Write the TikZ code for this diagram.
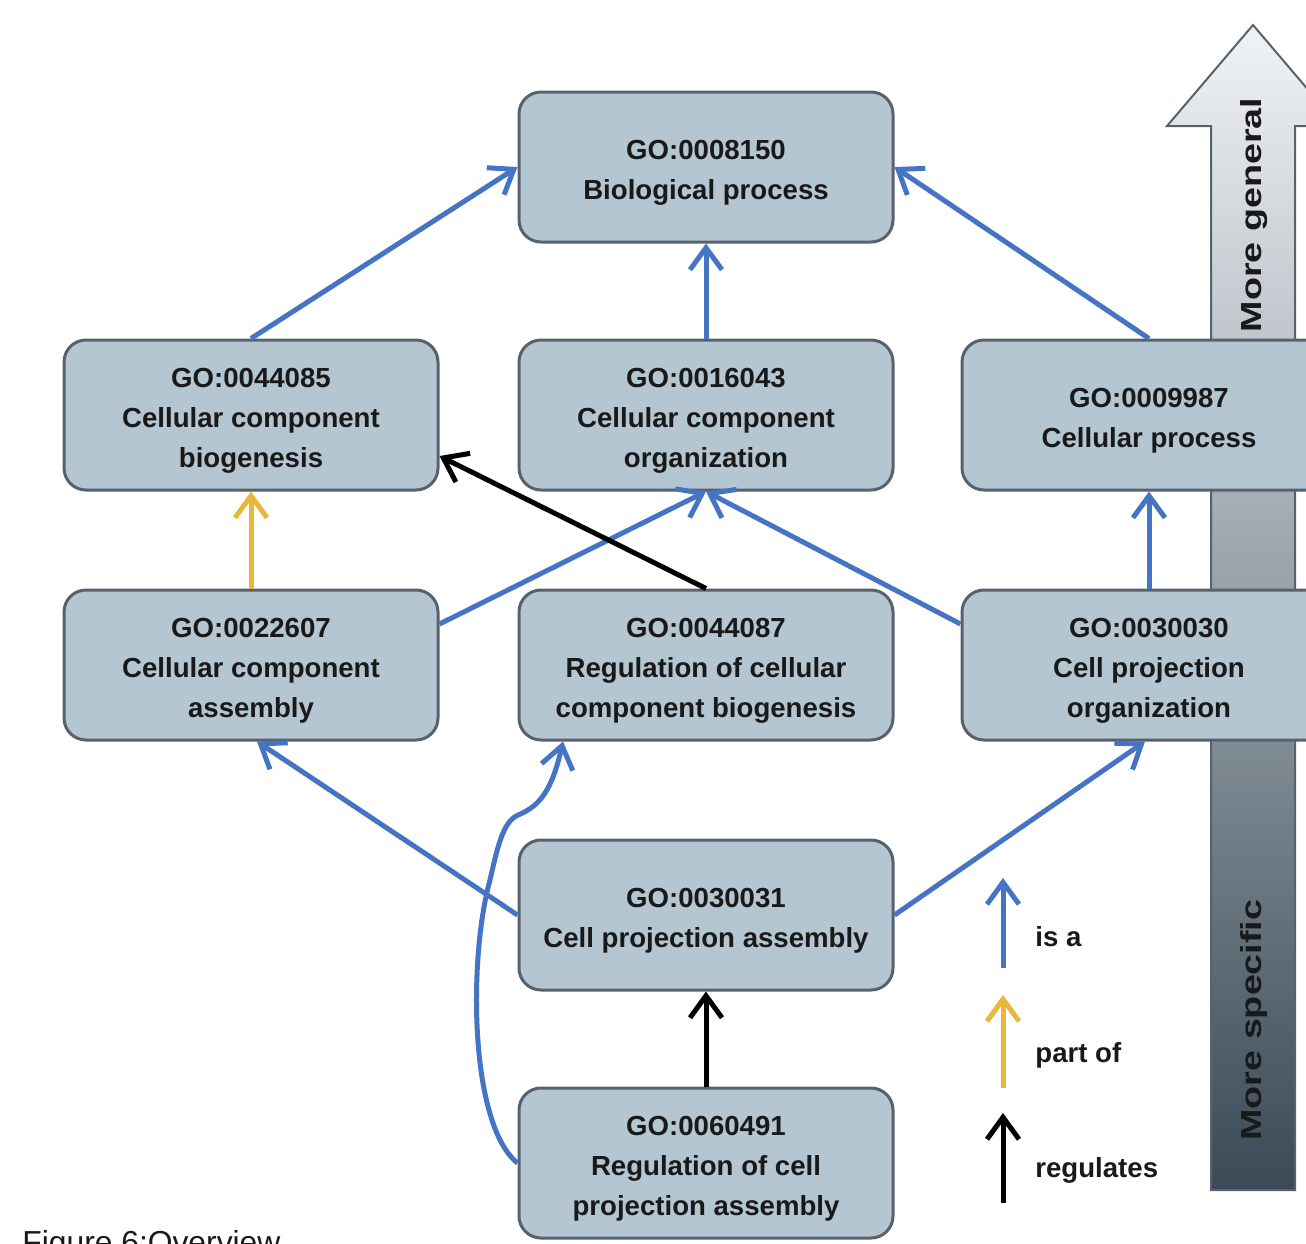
\documentclass[tikz,border=0pt]{standalone}
\usepackage{fontspec}
\setmainfont{Liberation Sans}
\newfontfamily\widesans{Liberation Sans}[FakeStretch=1.3]
\usetikzlibrary{arrows.meta,calc}
\definecolor{boxfill}{RGB}{180,198,210}
\definecolor{boxline}{RGB}{88,98,108}
\definecolor{isa}{RGB}{70,116,196}
\definecolor{partof}{RGB}{232,184,60}
\definecolor{txt}{RGB}{25,25,25}
\definecolor{bigtop}{RGB}{240,243,246}
\definecolor{bigbot}{RGB}{58,74,86}
\tikzset{
  term/.style={draw=boxline, line width=1.5pt, fill=boxfill, rounded corners=11pt,
    minimum width=187pt, minimum height=75pt, inner sep=0pt},
  termtext/.style={align=center, inner sep=0pt,
    font=\bfseries\fontsize{13.8}{20}\selectfont, text=txt},
  link/.style={line width=2.5pt, -{Straight Barb[length=11pt,width=16pt]}},
  isalink/.style={link, draw=isa},
  partlink/.style={link, draw=partof},
  reglink/.style={link, draw=black},
  legtext/.style={anchor=west, inner sep=0pt, font=\bfseries\fontsize{13.8}{20}\selectfont, text=txt},
  bigtext/.style={rotate=90, inner sep=0pt, font=\widesans\bfseries\fontsize{14.5}{18}\selectfont, text=txt},
  captext/.style={anchor=base west, inner sep=0pt, font=\fontsize{15.9}{19}\selectfont, text=txt}
}
\newcommand\goterm[3]{%
  \node[term] (#1) at (#2) {};
  \node[termtext] (#1-t) at ($(#1)+(0,6)$) {#3};}
\begin{document}
\begin{tikzpicture}[x=0.5pt,y=-0.5pt]
\clip (0,0) rectangle (1306,1243);
% big direction arrow
\shade[top color=bigtop, bottom color=bigbot, draw=boxline, line width=1pt]
  (1211,1190) -- (1211,126) -- (1167,126) -- (1253,25) -- (1339,126) -- (1295,126) -- (1295,1190) -- cycle;
\node[bigtext] (gen) at (1254,215) {More general};
\node[bigtext] (spec) at (1254,1020) {More specific};
% terms
\goterm{top}{706,167}{GO:0008150\\Biological process}
\goterm{ccb}{251,415}{GO:0044085\\Cellular component\\biogenesis}
\goterm{cco}{706,415}{GO:0016043\\Cellular component\\organization}
\goterm{cp}{1149,415}{GO:0009987\\Cellular process}
\goterm{cca}{251,665}{GO:0022607\\Cellular component\\assembly}
\goterm{rccb}{706,665}{GO:0044087\\Regulation of cellular\\component biogenesis}
\goterm{cpo}{1149,665}{GO:0030030\\Cell projection\\organization}
\goterm{cpa}{706,915}{GO:0030031\\Cell projection assembly}
\goterm{rcpa}{706,1163}{GO:0060491\\Regulation of cell\\projection assembly}
% connectors
\draw[isalink] (ccb.north) -- (top.west);
\draw[isalink] (cco.north) -- (top.south);
\draw[isalink] (cp.north) -- (top.east);
\draw[partlink] (cca.north) -- (ccb.south);
\draw[isalink] ($(cca.east)+(0,-41)$) -- (cco.south);
\draw[reglink] (rccb.north) -- ($(ccb.east)+(0,41)$);
\draw[isalink] ($(cpo.west)+(0,-41)$) -- (cco.south);
\draw[isalink] (cpo.north) -- (cp.south);
\draw[isalink] (cpa.west) -- ($(cca.south)+(6,0)$);
\draw[isalink] (cpa.east) -- ($(cpo.south)+(-4,0)$);
\draw[reglink] (rcpa.north) -- (cpa.south);
\draw[isalink] (rcpa.west) .. controls (470,1125) and (468,960) .. (490,880)
  .. controls (498,845) and (503,822) .. (518,815)
  .. controls (540,806) and (552,790) .. ($(rccb.south)+(-143,0)$);
% legend
\coordinate (l1a) at (1003,968); \coordinate (l1b) at (1003,878);
\coordinate (l2a) at (1003,1088); \coordinate (l2b) at (1003,995);
\coordinate (l3a) at (1003,1203); \coordinate (l3b) at (1003,1113);
\draw[isalink] (l1a) -- (l1b);
\draw[partlink] (l2a) -- (l2b);
\draw[reglink] (l3a) -- (l3b);
\node[legtext] (t1) at (1035,937) {is a};
\node[legtext] (t2) at (1035,1055) {part of};
\node[legtext] (t3) at (1035,1170) {regulates};
% caption
\node[captext] (cap) at (22,1253) {Figure 6:Overview};
\end{tikzpicture}
\end{document}
